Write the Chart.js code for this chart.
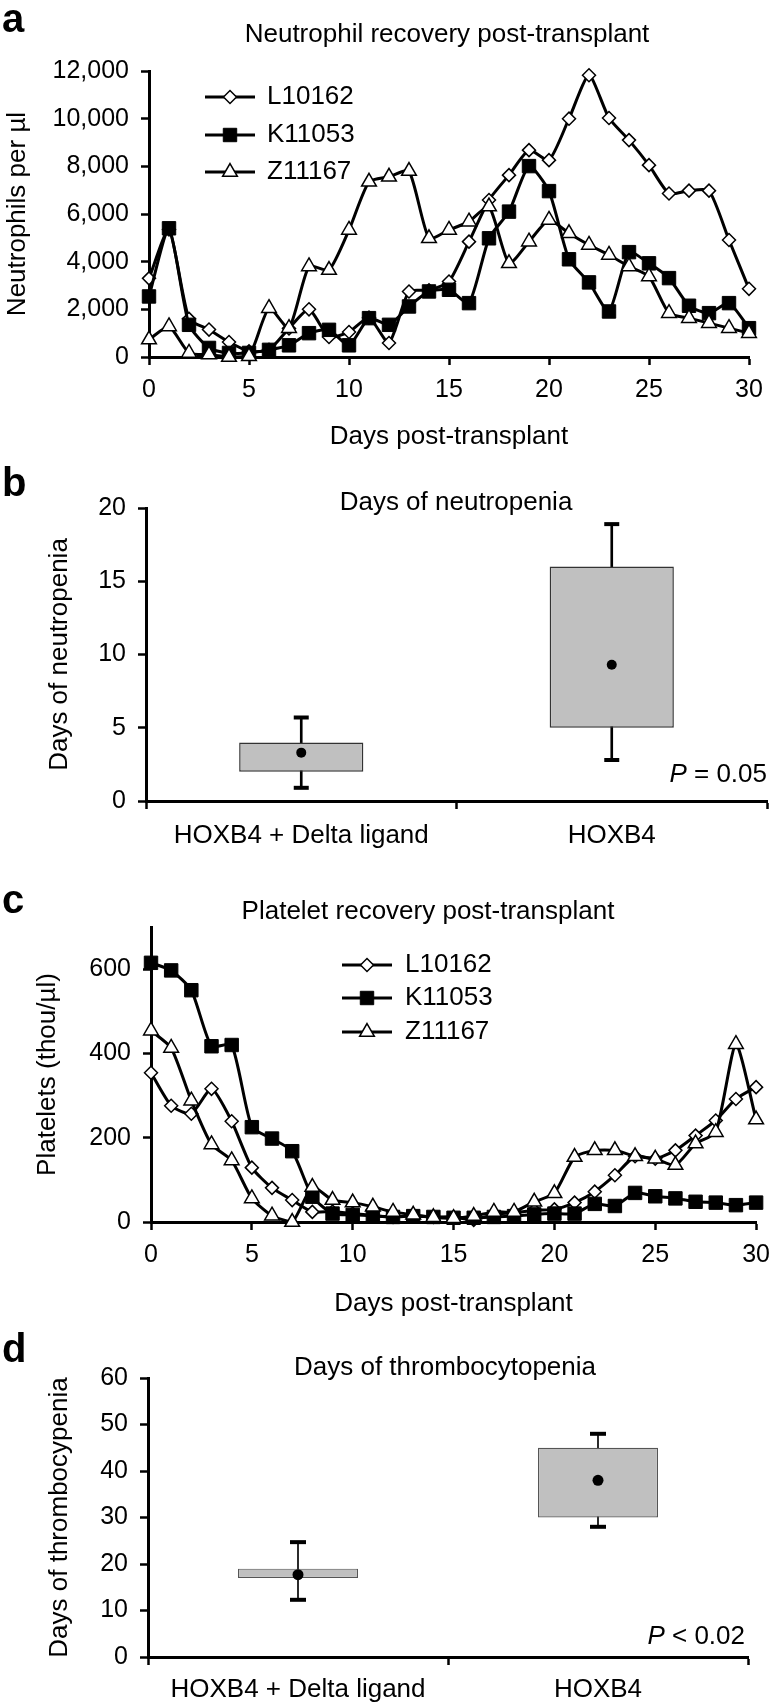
<!DOCTYPE html>
<html>
<head>
<meta charset="utf-8">
<title>Neutrophil and platelet recovery post-transplant</title>
<script src="https://cdn.jsdelivr.net/npm/chart.js@4.4.1/dist/chart.umd.min.js"></script>
<style>
  body { margin: 0; background: #fff; }
  #page { position: relative; width: 780px; height: 1703px; overflow: hidden; }
  #page canvas { position: absolute; left: 0; }
</style>
</head>
<body>
<div id="page">
  <canvas id="neutroChart" width="780" height="460" style="top:0px"></canvas>
  <canvas id="neutropeniaChart" width="780" height="400" style="top:460px"></canvas>
  <canvas id="plateletChart" width="780" height="460" style="top:860px"></canvas>
  <canvas id="thromboChart" width="780" height="383" style="top:1320px"></canvas>
</div>
<script>
// ---- data ----
const days = [0, 1, 2, 3, 4, 5, 6, 7, 8, 9, 10, 11, 12, 13, 14, 15, 16, 17, 18, 19, 20, 21, 22, 23, 24, 25, 26, 27, 28, 29, 30];

// neutrophils per µl
const neutL10162 = [3300, 5350, 1600, 1150, 630, 240, 300, 1200, 2000, 840, 1050, 1650, 590, 2750, 2800, 3170, 4840, 6590, 7630, 8680, 8260, 10000, 11820, 10030, 9100, 8050, 6860, 6980, 6980, 4910, 2860];
const neutK11053 = [2540, 5400, 1350, 380, 170, 170, 300, 490, 1000, 1140, 490, 1630, 1350, 2120, 2750, 2820, 2260, 4980, 6100, 8010, 6960, 4100, 3130, 1910, 4400, 3930, 3310, 2150, 1840, 2260, 1210];
const neutZ11167 = [730, 1280, 170, 100, 0, 30, 2050, 1210, 3800, 3650, 5330, 7350, 7560, 7800, 4980, 5330, 5680, 6310, 3930, 4840, 5750, 5190, 4700, 4280, 3800, 3380, 1840, 1630, 1420, 1210, 1000];

// platelets (thou/µl)
const pltL10162 = [354, 276, 257, 316, 239, 129, 81, 52, 24, 25, 20, 15, 12, 15, 12, 12, 5, 18, 22, 28, 30, 46, 72, 111, 156, 150, 170, 205, 241, 292, 320];
const pltK11053 = [615, 597, 550, 417, 420, 225, 198, 168, 60, 20, 17, 15, 12, 14, 12, 10, 10, 12, 14, 18, 20, 20, 43, 38, 69, 61, 56, 48, 46, 40, 46];
const pltZ11167 = [454, 413, 288, 184, 146, 56, 15, 0, 83, 52, 46, 36, 24, 17, 11, 9, 14, 24, 24, 48, 68, 154, 170, 170, 156, 150, 135, 186, 213, 422, 243];

// box plots
const groups = ['HOXB4 + Delta ligand', 'HOXB4'];
const neutropeniaBoxLow = [2, 5];
const neutropeniaBoxHigh = [4, 16];
const neutropeniaWhiskerLow = [0.9, 2.8];
const neutropeniaWhiskerHigh = [5.7, 18.9];
const neutropeniaMean = [3.3, 9.3];

const thromboBoxLow = [17, 30];
const thromboBoxHigh = [19, 45];
const thromboWhiskerLow = [12.3, 28];
const thromboWhiskerHigh = [24.7, 48];
const thromboMean = [17.7, 38];

// ---- styling ----
const FAMILY = "'Liberation Sans', Arial, Helvetica, sans-serif";
Chart.defaults.font.family = FAMILY;
Chart.defaults.font.size = 26;
Chart.defaults.color = '#000';

const tickFont = { family: FAMILY, size: 25 };
const titleFont = { family: FAMILY, size: 26 };

const markerL = { pointStyle: 'rectRot', pointRadius: 6.5, pointBackgroundColor: '#fff', pointBorderWidth: 1.5 };
const markerK = { pointStyle: 'rect', pointRadius: 9.5, pointBackgroundColor: '#000', pointBorderWidth: 1 };
const markerZ = { pointStyle: 'triangle', pointRadius: 8.5, pointBackgroundColor: '#fff', pointBorderWidth: 1.5 };

function toPoints(xs, ys) {
    return xs.map((x, i) => ({ x: x, y: ys[i] }));
}

function seriesDataset(label, values, marker, order) {
    return Object.assign({
        label: label,
        data: toPoints(days, values),
        borderColor: '#000',
        borderWidth: 3,
        pointBorderColor: '#000',
        tension: 0.2,
        clip: false,
        order: order
    }, marker);
}

// axis look shared by all panels
function axis(extra) {
    return Object.assign({
        grid: { drawOnChartArea: false, drawTicks: true, tickLength: 8, tickWidth: 2.5, tickColor: '#000' },
        border: { display: true, color: '#000', width: 3 }
    }, extra);
}

// panel letter, title and p-value
const panelText = {
    id: 'panelText',
    afterDraw(chart, args, opts) {
        const ctx = chart.ctx;
        ctx.save();
        ctx.fillStyle = '#000';
        ctx.textBaseline = 'alphabetic';
        ctx.font = 'bold 40px ' + FAMILY;
        ctx.textAlign = 'left';
        ctx.fillText(opts.letter, opts.letterX, opts.letterY);
        ctx.font = '26px ' + FAMILY;
        ctx.textAlign = 'center';
        ctx.fillText(opts.title, opts.titleX, opts.titleY);
        if (opts.pRest) {
            ctx.textAlign = 'left';
            const wRest = ctx.measureText(opts.pRest).width;
            ctx.font = 'italic 26px ' + FAMILY;
            const wP = ctx.measureText('P').width;
            const x0 = opts.pX - wRest - wP;
            ctx.fillText('P', x0, opts.pY);
            ctx.font = '26px ' + FAMILY;
            ctx.fillText(opts.pRest, x0 + wP, opts.pY);
        }
        ctx.restore();
    }
};

// legend with a line through the marker, like the original
const lineLegend = {
    id: 'lineLegend',
    afterDraw(chart, args, opts) {
        const ctx = chart.ctx;
        ctx.save();
        chart.data.datasets.forEach((ds, i) => {
            const y = opts.rows[i];
            ctx.strokeStyle = '#000';
            ctx.lineWidth = 3;
            ctx.beginPath();
            ctx.moveTo(opts.x0, y);
            ctx.lineTo(opts.x1, y);
            ctx.stroke();
            ctx.fillStyle = ds.pointBackgroundColor;
            ctx.lineWidth = ds.pointBorderWidth;
            Chart.helpers.drawPoint(ctx, {
                pointStyle: ds.pointStyle,
                radius: ds.pointRadius,
                borderWidth: ds.pointBorderWidth,
                rotation: 0
            }, (opts.x0 + opts.x1) / 2, y);
            ctx.fillStyle = '#000';
            ctx.font = '26px ' + FAMILY;
            ctx.textAlign = 'left';
            ctx.textBaseline = 'middle';
            ctx.fillText(ds.label, opts.textX, y);
        });
        ctx.restore();
    }
};

const baseOptions = {
    responsive: false,
    animation: false,
    devicePixelRatio: 1,
    events: []
};

// line chart for the recovery panels
function recoveryChart(canvasId, values, cfg) {
    const ctx = document.getElementById(canvasId).getContext('2d');
    return new Chart(ctx, {
        type: 'line',
        data: {
            datasets: [
                seriesDataset('L10162', values[0], markerL, 3),
                seriesDataset('K11053', values[1], markerK, 2),
                seriesDataset('Z11167', values[2], markerZ, 1)
            ]
        },
        plugins: [panelText, lineLegend],
        options: Object.assign({}, baseOptions, {
            layout: { padding: cfg.padding },
            plugins: {
                legend: { display: false },
                tooltip: { enabled: false },
                panelText: cfg.text,
                lineLegend: cfg.legend
            },
            scales: {
                x: axis({
                    type: 'linear',
                    min: 0,
                    max: 30,
                    ticks: { stepSize: 5, padding: 10, font: tickFont, color: '#000', maxRotation: 0 },
                    title: { display: true, text: 'Days post-transplant', font: titleFont, padding: { top: 0, bottom: 0 } },
                    afterFit: s => { s.height = cfg.xHeight; }
                }),
                y: axis({
                    min: 0,
                    max: cfg.yMax,
                    ticks: { stepSize: cfg.yStep, padding: 12, font: tickFont, color: '#000' },
                    afterBuildTicks: s => { s.ticks = s.ticks.filter(t => t.value <= cfg.yLastTick); },
                    title: { display: true, text: cfg.yTitle, font: titleFont, padding: { top: cfg.yTitlePad, bottom: 0 } },
                    afterFit: s => { s.width = cfg.yWidth; }
                })
            }
        })
    });
}

// box plot built from floating bars and point markers
function boxChart(canvasId, box, cfg) {
    const ctx = document.getElementById(canvasId).getContext('2d');
    return new Chart(ctx, {
        type: 'bar',
        data: {
            labels: groups,
            datasets: [
                {
                    label: 'whisker',
                    data: groups.map((g, i) => [box.whiskLow[i], box.whiskHigh[i]]),
                    backgroundColor: '#000',
                    barThickness: cfg.whiskerWidth,
                    grouped: false,
                    order: 4
                },
                {
                    label: 'box',
                    data: groups.map((g, i) => [box.low[i], box.high[i]]),
                    backgroundColor: '#c0c0c0',
                    borderColor: cfg.boxBorder,
                    borderWidth: cfg.boxBorderWidth,
                    borderSkipped: false,
                    barPercentage: 0.4,
                    categoryPercentage: 1,
                    grouped: false,
                    order: 3
                },
                {
                    type: 'line',
                    label: 'upper cap',
                    data: box.whiskHigh,
                    showLine: false,
                    pointStyle: 'line',
                    pointRadius: cfg.capRadius,
                    pointBorderColor: '#000',
                    pointBorderWidth: 4,
                    clip: false,
                    order: 2
                },
                {
                    type: 'line',
                    label: 'lower cap',
                    data: box.whiskLow,
                    showLine: false,
                    pointStyle: 'line',
                    pointRadius: cfg.capRadius,
                    pointBorderColor: '#000',
                    pointBorderWidth: 4,
                    clip: false,
                    order: 2
                },
                {
                    type: 'line',
                    label: 'mean',
                    data: box.mean,
                    showLine: false,
                    pointStyle: 'circle',
                    pointRadius: cfg.dotRadius,
                    pointBackgroundColor: '#000',
                    pointBorderWidth: 0,
                    clip: false,
                    order: 1
                }
            ]
        },
        plugins: [panelText],
        options: Object.assign({}, baseOptions, {
            layout: { padding: cfg.padding },
            plugins: {
                legend: { display: false },
                tooltip: { enabled: false },
                panelText: cfg.text
            },
            scales: {
                x: axis({
                    type: 'category',
                    offset: true,
                    grid: { offset: true, drawOnChartArea: false, drawTicks: true, tickLength: 8, tickWidth: 2.5, tickColor: '#000' },
                    ticks: { padding: cfg.xPad, font: titleFont, color: '#000', maxRotation: 0, autoSkip: false },
                    afterFit: s => { s.height = cfg.xHeight; }
                }),
                y: axis({
                    min: 0,
                    max: cfg.yMax,
                    ticks: { stepSize: cfg.yStep, padding: 12, font: tickFont, color: '#000' },
                    title: { display: true, text: cfg.yTitle, font: titleFont, padding: { top: cfg.yTitlePad, bottom: 0 } },
                    afterFit: s => { s.width = cfg.yWidth; }
                })
            }
        })
    });
}

function initializeCharts() {
    // a
    recoveryChart('neutroChart', [neutL10162, neutK11053, neutZ11167], {
        padding: { left: 0, top: 71, right: 31, bottom: 8 },
        xHeight: 95,
        yWidth: 149,
        yMax: 12000,
        yStep: 2000,
        yLastTick: 12000,
        yTitle: 'Neutrophils per µl',
        yTitlePad: 2,
        text: { letter: 'a', letterX: 2, letterY: 32, title: 'Neutrophil recovery post-transplant', titleX: 447, titleY: 42 },
        legend: { x0: 205, x1: 255, textX: 267, rows: [97, 135, 172] }
    });

    // b
    boxChart('neutropeniaChart', {
        low: neutropeniaBoxLow, high: neutropeniaBoxHigh,
        whiskLow: neutropeniaWhiskerLow, whiskHigh: neutropeniaWhiskerHigh,
        mean: neutropeniaMean
    }, {
        padding: { left: 0, top: 48, right: 13, bottom: 0 },
        xHeight: 59,
        xPad: 11,
        yWidth: 146,
        yMax: 20,
        yStep: 5,
        yTitle: 'Days of neutropenia',
        yTitlePad: 44,
        whiskerWidth: 2,
        boxBorder: '#333',
        boxBorderWidth: 1.5,
        capRadius: 7.5,
        dotRadius: 5,
        text: { letter: 'b', letterX: 2, letterY: 36, title: 'Days of neutropenia', titleX: 456, titleY: 50, pRest: ' = 0.05', pX: 767, pY: 322 }
    });

    // c
    recoveryChart('plateletChart', [pltL10162, pltK11053, pltZ11167], {
        padding: { left: 0, top: 67, right: 15, bottom: 1 },
        xHeight: 97,
        yWidth: 151,
        yMax: 700,
        yStep: 200,
        yLastTick: 600,
        yTitle: 'Platelets (thou/µl)',
        yTitlePad: 32,
        text: { letter: 'c', letterX: 2, letterY: 53, title: 'Platelet recovery post-transplant', titleX: 428, titleY: 59 },
        legend: { x0: 342, x1: 392, textX: 405, rows: [105, 138, 172] }
    });

    // d
    boxChart('thromboChart', {
        low: thromboBoxLow, high: thromboBoxHigh,
        whiskLow: thromboWhiskerLow, whiskHigh: thromboWhiskerHigh,
        mean: thromboMean
    }, {
        padding: { left: 0, top: 58, right: 32, bottom: 0 },
        xHeight: 46,
        xPad: 9,
        yWidth: 148,
        yMax: 60,
        yStep: 10,
        yTitle: 'Days of thrombocypenia',
        yTitlePad: 44,
        whiskerWidth: 1,
        boxBorder: '#555',
        boxBorderWidth: 1.2,
        capRadius: 8,
        dotRadius: 5.5,
        text: { letter: 'd', letterX: 2, letterY: 42, title: 'Days of thrombocytopenia', titleX: 445, titleY: 55, pRest: ' < 0.02', pX: 745, pY: 324 }
    });
}

initializeCharts();
</script>
</body>
</html>
